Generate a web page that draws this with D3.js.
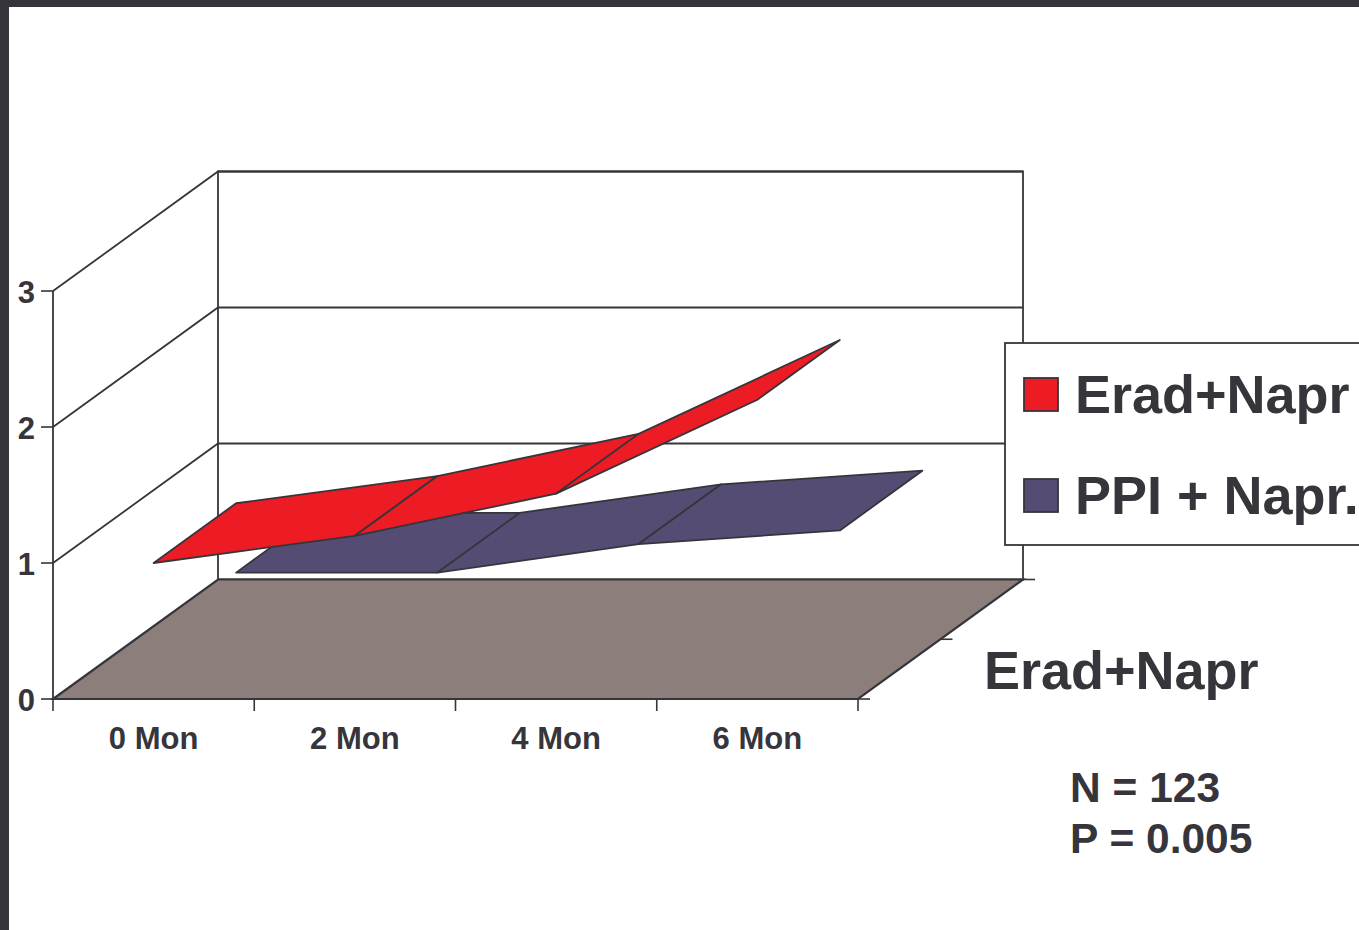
<!DOCTYPE html>
<html>
<head>
<meta charset="utf-8">
<script src="https://cdnjs.cloudflare.com/ajax/libs/d3/7.9.0/d3.min.js"></script>
<style>
  html, body { margin: 0; padding: 0; background: #fff; overflow: hidden; }
  svg { display: block; }
  text { font-family: "Liberation Sans", Arial, sans-serif; font-weight: 700; fill: #36353b; }
</style>
</head>
<body>
<svg id="chart" width="1359" height="930"></svg>
<script>
// Chart values
const months = ["0 Mon", "2 Mon", "4 Mon", "6 Mon"];
const eradValues = [1.0, 1.2, 1.51, 2.2];
const ppiValues = [0.49, 0.49, 0.7, 0.8];
const seriesNames = ["Erad+Napr", "PPI + Napr."];
const seriesColors = ["#ed1c24", "#554c74"];
const valueTicks = [0, 1, 2, 3];
const depthTicks = [0, 0.5, 1];
const noteLines = ["N = 123", "P = 0.005"];

const ink = "#36353b";
const floorColor = "#8c7f7b";

const svg = d3.select("#chart");

// Page frame
svg.append("rect").attr("width", 1359).attr("height", 7).attr("fill", ink);
svg.append("rect").attr("width", 9).attr("height", 930).attr("fill", ink);

// Scales for the front plane, plus the oblique offset used for depth
const x = d3.scaleBand().domain(months).range([53, 858]);
const xEdges = d3.scaleLinear().domain([0, months.length]).range([53, 858]);
const y = d3.scaleLinear().domain([0, 3]).range([699, 291]);
const depthX = d3.scaleLinear().domain([0, 1]).range([0, 165]);
const depthY = d3.scaleLinear().domain([0, 1]).range([0, -119.5]);

// Projects a position along the front plane, a value and a depth to the screen
const project = (px, value, depth) => [px + depthX(depth), y(value) + depthY(depth)];
const poly = pts => "M" + pts.map(p => p.join(",")).join("L") + "Z";
const line = d3.line();

const walls = svg.append("g").attr("fill", "none").attr("stroke", ink).attr("stroke-width", 1.8);

// Back wall outline and value gridlines running across the side and back walls
walls.append("path").attr("d", poly([
  project(53, 0, 1), project(858, 0, 1), project(858, 3, 1), project(53, 3, 1)
])).attr("fill", "#fff");
walls.selectAll(".grid").data(valueTicks.slice(1)).join("path")
  .attr("class", "grid")
  .attr("d", v => line([project(53, v, 0), project(53, v, 1), project(858, v, 1)]));
walls.append("path").attr("d", line([project(53, 0, 0), project(53, 3, 0)]));

// Floor
svg.append("path")
  .attr("d", poly([project(53, 0, 0), project(858, 0, 0), project(858, 0, 1), project(53, 0, 1)]))
  .attr("fill", floorColor).attr("stroke", ink).attr("stroke-width", 2.2);

// One ribbon of quads per series, back series first
function drawRibbon(values, color, zFront, zBack) {
  const g = svg.append("g").attr("fill", color).attr("stroke", ink)
    .attr("stroke-width", 1.8).attr("stroke-linejoin", "round");
  const centers = months.map(m => x(m) + x.bandwidth() / 2);
  d3.pairs(d3.range(values.length)).forEach(([a, b]) => {
    g.append("path").attr("d", poly([
      project(centers[a], values[a], zFront),
      project(centers[b], values[b], zFront),
      project(centers[b], values[b], zBack),
      project(centers[a], values[a], zBack)
    ]));
  });
}
drawRibbon(ppiValues, seriesColors[1], 0.5, 1);
drawRibbon(eradValues, seriesColors[0], 0, 0.5);

// Value axis
const yAxis = svg.append("g").attr("transform", "translate(53,0)")
  .call(d3.axisLeft(y).offset(0).tickValues(valueTicks).tickSize(12).tickFormat(d3.format("d")));
yAxis.select(".domain").remove();
yAxis.selectAll("line").attr("stroke", ink).attr("stroke-width", 1.6);
yAxis.selectAll("text").attr("font-size", 31).attr("x", -18).attr("dy", "0.4em");

// Category axis: ticks at the band edges, labels at the band centres
const edgeAxis = svg.append("g").attr("transform", "translate(0,699)")
  .call(d3.axisBottom(xEdges).offset(0).ticks(months.length).tickSize(12).tickFormat(""));
edgeAxis.selectAll("line").attr("stroke", ink).attr("stroke-width", 1.6);
edgeAxis.select(".domain").remove();

const labelAxis = svg.append("g").attr("transform", "translate(0,699)")
  .call(d3.axisBottom(x).offset(0).tickSize(0).tickPadding(0));
labelAxis.select(".domain").remove();
labelAxis.selectAll("text").attr("font-size", 31).attr("y", 50).attr("dy", 0);

// Depth axis ticks and series label
svg.append("g").selectAll("line").data(depthTicks).join("line")
  .attr("x1", d => project(858, 0, d)[0])
  .attr("x2", d => project(858, 0, d)[0] + 12)
  .attr("y1", d => project(858, 0, d)[1])
  .attr("y2", d => project(858, 0, d)[1])
  .attr("stroke", ink).attr("stroke-width", 1.6);
svg.append("text").attr("x", 984).attr("y", 689).attr("font-size", 54).text(seriesNames[0]);

// Legend, overlapping the right edge of the page
const legend = svg.append("g");
legend.append("rect").attr("x", 1005).attr("y", 343).attr("width", 400).attr("height", 202)
  .attr("fill", "#fff").attr("stroke", ink).attr("stroke-width", 1.8);
seriesNames.forEach((name, i) => {
  const top = 378 + i * 101;
  legend.append("rect").attr("x", 1024).attr("y", top).attr("width", 34).attr("height", 33)
    .attr("fill", seriesColors[i]).attr("stroke", ink).attr("stroke-width", 1.8);
  legend.append("text").attr("x", 1075).attr("y", top + 35).attr("font-size", 54).text(name);
});

// Study annotation
svg.append("g").selectAll("text").data(noteLines).join("text")
  .attr("x", 1070).attr("y", (d, i) => 802 + i * 51).attr("font-size", 42.5).text(d => d);
</script>
</body>
</html>
